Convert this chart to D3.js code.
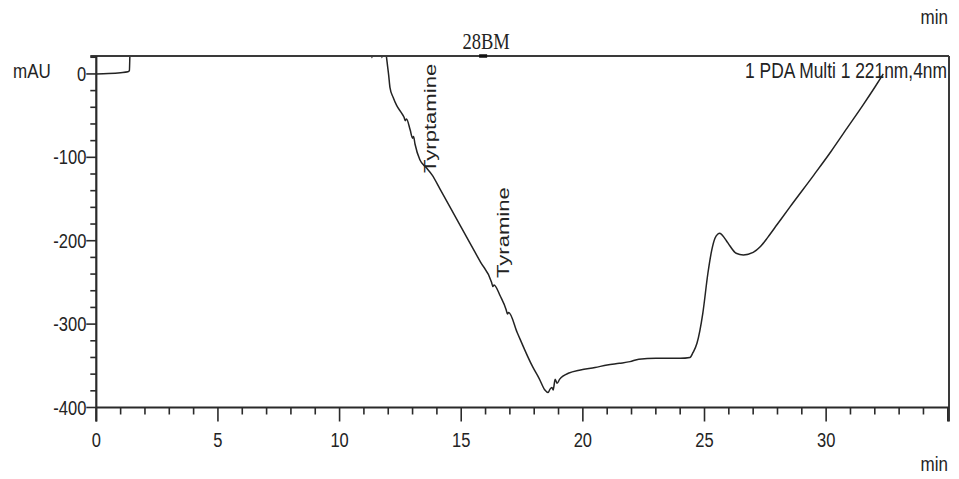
<!DOCTYPE html>
<html>
<head>
<meta charset="utf-8">
<script src="https://cdn.jsdelivr.net/npm/d3@7"></script>
<style>
  html, body { margin: 0; padding: 0; background: #fff; }
  svg { display: block; }
</style>
</head>
<body>
<svg id="chart" width="959" height="479"></svg>
<script>
// Chromatogram trace: retention time (min) and detector signal (mAU)
const times = [
  0, 0.5, 1.0, 1.3, 1.36, 1.4, 1.5,
  11.25, 11.33, 11.4, 11.68, 11.74, 11.8,
  11.92, 11.97, 12.02, 12.07, 12.2, 12.35, 12.55, 12.65, 12.7, 12.75, 12.9, 13.0, 13.04, 13.1,
  13.3, 13.55, 13.8, 14.13, 14.7, 15.36, 15.8, 16.25, 16.3, 16.35, 16.6, 16.85, 16.9, 16.95,
  17.3, 17.95, 18.2, 18.44, 18.57, 18.65, 18.73, 18.78, 18.86, 18.94, 19.05, 19.2, 19.4,
  19.9, 20.5, 21.0, 21.5, 21.94, 22.3, 23.0, 24.0, 24.4, 24.53, 24.69, 24.93, 25.14,
  25.3, 25.43, 25.55, 25.63, 25.75, 25.9, 26.04, 26.3, 26.6, 27.0, 27.3, 27.6,
  28.0, 28.5, 29.5, 30.2, 30.86, 31.5, 32.0, 32.35
];
const signal = [
  0, 0.5, 1.5, 2.5, 4, 40, 40,
  40, 19.5, 40, 40, 19.5, 40,
  22, 10, -2, -16, -28, -38, -47, -52, -56, -54, -67, -77, -75, -84,
  -103, -112, -121, -138, -168, -203, -226, -250, -255, -253, -266, -283, -288, -286,
  -310, -352, -365, -379, -382, -378, -376, -379, -366, -371, -366, -362, -359,
  -355, -352, -349, -347, -345, -342, -341, -341, -340, -334, -323, -287, -239,
  -211, -197, -192, -191, -194, -200, -206, -215, -217, -214, -207, -196,
  -180, -160, -121, -93, -65, -38, -16, 0
];

// Axis ticks and text
const xMajorTicks = [0, 5, 10, 15, 20, 25, 30];
const xMinorTicks = d3.range(0, 36, 1);
const yMajorTicks = [0, -100, -200, -300, -400];
const yMinorTicks = d3.range(-400, 21, 20);
const yUnit = "mAU";
const xUnit = "min";
const channelLabel = "1 PDA Multi 1 221nm,4nm";

// Sample marker on the top border and named peaks
const markerLabels = ["28BM"];
const markerTimes = [15.9];
const peakNames = ["Tyrptamine", "Tyramine"];
const peakTimes = [13.96, 16.96];

const svg = d3.select("#chart");
const ink = "#232323";
const sans = "'Liberation Sans', Arial, sans-serif";
const serif = "'Liberation Serif', 'Times New Roman', serif";
const stretch = 1.22;

const x = d3.scaleLinear().domain([0, 35.05]).range([96.3, 949]);
const y = d3.scaleLinear().domain([-400, 21.5]).range([407.5, 56]);

const plotLeft = x(0), plotRight = x(35.05), plotTop = y(21.5), plotBottom = y(-400);

// Text helper: glyphs are drawn taller than wide, as in the instrument export
function label(g, txt, px, py, size, anchor, family) {
  return g.append("text")
    .attr("transform", `translate(${px},${py}) scale(1,${stretch})`)
    .attr("text-anchor", anchor)
    .attr("font-family", family || sans)
    .attr("font-size", size)
    .attr("fill", ink)
    .text(txt);
}

// Trace, clipped to the plot box
svg.append("clipPath").attr("id", "plotClip")
  .append("rect").attr("x", plotLeft).attr("y", plotTop)
  .attr("width", plotRight - plotLeft).attr("height", plotBottom - plotTop);

const pts = times.map((t, i) => [t, signal[i]]);
const line = d3.line().x(d => x(d[0])).y(d => y(d[1])).curve(d3.curveMonotoneX);
svg.append("path")
  .datum(pts)
  .attr("clip-path", "url(#plotClip)")
  .attr("d", line)
  .attr("fill", "none")
  .attr("stroke", ink)
  .attr("stroke-width", 1.5)
  .attr("stroke-linejoin", "round");

// Frame: top and right border
svg.append("line").attr("x1", plotLeft - 6).attr("x2", plotRight).attr("y1", plotTop).attr("y2", plotTop)
  .attr("stroke", "#3a3a3a").attr("stroke-width", 2);
svg.append("line").attr("x1", plotRight).attr("x2", plotRight).attr("y1", plotTop).attr("y2", plotBottom + 14)
  .attr("stroke", "#3a3a3a").attr("stroke-width", 2);

// X axis
const gx = svg.append("g");
gx.append("line").attr("x1", plotLeft).attr("x2", plotRight).attr("y1", plotBottom).attr("y2", plotBottom)
  .attr("stroke", "#2a2a2a").attr("stroke-width", 2.2);
gx.selectAll("line.minor").data(xMinorTicks).join("line")
  .attr("class", "minor")
  .attr("x1", d => x(d)).attr("x2", d => x(d))
  .attr("y1", plotBottom).attr("y2", d => (d % 5 === 0 ? plotBottom + 14 : plotBottom + 7))
  .attr("stroke", "#2a2a2a").attr("stroke-width", 1.6);
xMajorTicks.forEach(t => label(gx, String(t), x(t), plotBottom + 39, 16.5, "middle"));

// Y axis
const gy = svg.append("g");
gy.append("line").attr("x1", plotLeft).attr("x2", plotLeft).attr("y1", plotTop).attr("y2", plotBottom + 14)
  .attr("stroke", "#2a2a2a").attr("stroke-width", 2.2);
gy.selectAll("line.minor").data(yMinorTicks).join("line")
  .attr("class", "minor")
  .attr("x1", d => (d % 100 === 0 ? plotLeft - 10 : plotLeft - 6)).attr("x2", plotLeft)
  .attr("y1", d => y(d)).attr("y2", d => y(d))
  .attr("stroke", "#2a2a2a").attr("stroke-width", 1.6);
yMajorTicks.forEach(v => label(gy, String(v), plotLeft - 10, y(v) + 7, 16.5, "end"));

// Units and channel caption
label(svg, yUnit, 13, 78, 17, "start");
label(svg, xUnit, 948, 24, 17, "end");
label(svg, xUnit, 948, 471, 17, "end");
label(svg, channelLabel, 947, 78, 17.4, "end");

// Sample marker
markerTimes.forEach((t, i) => {
  svg.append("line").attr("x1", x(t) - 4).attr("x2", x(t) + 4).attr("y1", plotTop).attr("y2", plotTop)
    .attr("stroke", "#111").attr("stroke-width", 3.5);
  label(svg, markerLabels[i], x(t) + 3, 49, 18.5, "middle", serif)
    .attr("transform", `translate(${x(t) + 3},49) scale(1,1.3)`);
});

// Peak names, written upward beside the trace
const peakStarts = [173, 278];
peakTimes.forEach((t, i) => {
  svg.append("text")
    .attr("transform", `translate(${x(t)},${peakStarts[i]}) rotate(-90) scale(1.3,1)`)
    .attr("text-anchor", "start")
    .attr("font-family", sans)
    .attr("font-size", 17)
    .attr("fill", ink)
    .text(peakNames[i]);
});
</script>
</body>
</html>
